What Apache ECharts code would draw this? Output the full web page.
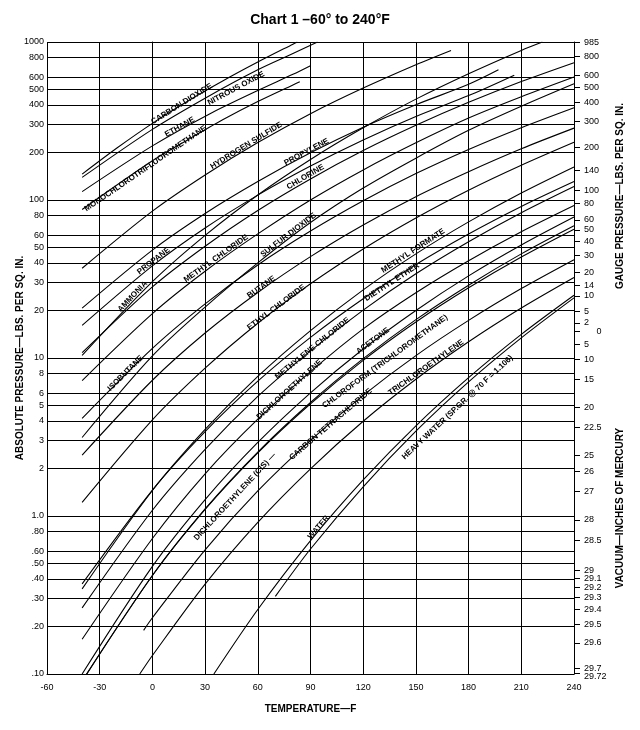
<!DOCTYPE html>
<html><head><meta charset="utf-8">
<script src="https://cdn.jsdelivr.net/npm/echarts@6/dist/echarts.min.js"></script>
<style>html,body{margin:0;padding:0;background:#fff}#c{width:640px;height:730px}</style>
</head><body><div id="c"></div>
<script>
// ---------- tick labels ----------
const xTicks = [-60,-30,0,30,60,90,120,150,180,210,240];
const xTickLabels = ['-60','-30','0','30','60','90','120','150','180','210','240'];
const absTicks = [1000,800,600,500,400,300,200,100,80,60,50,40,30,20,10,8,6,5,4,3,2,1,0.8,0.6,0.5,0.4,0.3,0.2,0.1];
const absTickLabels = ['1000','800','600','500','400','300','200','100','80','60','50','40','30','20','10','8','6','5','4','3','2','1.0','.80','.60','.50','.40','.30','.20','.10'];
const gaugeTicks = [985,800,600,500,400,300,200,140,100,80,60,50,40,30,20,14,10,5,2,0];
const vacuumTicks = [5,10,15,20,22.5,25,26,27,28,28.5,29,29.1,29.2,29.3,29.4,29.5,29.6,29.7,29.72];
const ATM_PSI = 14.7, ATM_INHG = 29.92;

// ---------- vapor pressure curves (deg F, psia) ----------
const co2T = [-40,-20,0,20,40,60,80,82.5];
const co2P = [145.8,214,305.5,421.8,567,747,969,1000];
const n2oT = [-40,0,32,60,80,94];
const n2oP = [139,280,454,667,845,1000];
const ethaneT = [-40,0,32,60,80,90];
const ethaneP = [113,220,348,493,624,708];
const r13T = [-40,0,20,40,60,80,83.9];
const r13P = [87,177,240,322,420,535,561];
const h2sT = [-40,0,30,60,90,120,150,170];
const h2sP = [37,85,144,231,352,511,718,884];
const propyleneT = [-40,0,30,60,90,120,150,180,197];
const propyleneP = [20.7,48.2,82.2,131,199,289,401,540,667];
const propaneT = [-40,0,30,60,90,120,150,180,206];
const propaneP = [16.1,38.3,66.5,107.4,164,240,338,458,617];
const chlorineT = [-40,0,30,60,90,120,150,180,210,240];
const chlorineP = [10.8,28.2,51,85.9,136,205.6,297,415,562,740];
const ammoniaT = [-40,0,30,60,90,120,150,180,210,222];
const ammoniaP = [10.4,30.4,59.7,107.6,180.6,286.4,435,630,885,1000];
const mechlT = [-40,0,30,60,90,120,150,180,210,240];
const mechlP = [7.2,19.1,35.4,61,100,155,230,330,450,600];
const so2T = [-40,0,30,60,90,120,150,180,210,240];
const so2P = [3.14,10.3,21,40,72,119,184,276,392,544];
const isobutaneT = [-40,0,30,60,90,120,150,180,210,240];
const isobutaneP = [4.15,11.5,22,38.8,63.6,98.9,147,209,287,384];
const butaneT = [-40,0,30,60,90,120,150,180,210,240];
const butaneP = [2.43,7.23,14.4,26,43.8,69.5,105,151,211,285];
const etclT = [-40,0,30,60,90,120,150,180,210,240];
const etclP = [1.22,4.06,8.62,16.6,29.5,49,77,115.4,166,232];
const mformT = [-40,0,30,60,90,120,150,180,210,240];
const mformP = [0.346,1.45,3.53,7.64,14.9,27,45.6,72.7,110.8,162];
const etherT = [-40,0,30,60,90,120,150,180,210,240];
const etherP = [0.372,1.46,3.42,7.13,13.5,23.7,39.1,61,91.1,131];
const mecl2T = [-40,0,30,60,90,120,150,180,210,240];
const mecl2P = [0.262,1.087,2.64,5.71,11.1,20.1,34.1,54.4,83,121.6];
const tdceT = [-40,0,30,60,90,120,150,180,210,240];
const tdceP = [0.166,0.72,1.85,4.1,8.2,15.3,25.9,41.3,63,92.3];
const acetoneT = [-40,0,30,60,90,120,150,180,210,240];
const acetoneP = [0.1,0.48,1.27,2.92,6.02,11.4,20,33.1,51.9,78];
const chcl3T = [-40,0,30,60,90,120,150,180,210,240];
const chcl3P = [0.0899,0.42,1.1,2.51,5.13,9.66,16.9,27.8,43.6,65.4];
const cdceT = [-40,0,30,60,90,120,150,180,210,240];
const cdceP = [0.0905,0.42,1.11,2.54,5.23,9.9,17.5,28.9,45.6,68.7];
const ccl4T = [-5,0,30,60,90,120,150,180,210,240];
const ccl4P = [0.189,0.227,0.611,1.44,3.01,5.8,10.36,17.3,27.5,41.9];
const tceT = [-7.2,0,30,60,90,120,150,180,210,240];
const tceP = [0.1,0.131,0.371,0.912,1.99,3.98,7.34,12.66,20.7,32.3];
const waterT = [35,60,90,120,150,180,210,240];
const waterP = [0.1,0.256,0.698,1.69,3.72,7.51,14.12,24.97];
const d2oT = [70,90,120,150,180,210,240];
const d2oP = [0.31,0.618,1.53,3.44,7.06,13.4,24.0];

const curves = [
  {id:'co2', t:co2T, p:co2P}, {id:'n2o', t:n2oT, p:n2oP}, {id:'ethane', t:ethaneT, p:ethaneP},
  {id:'r13', t:r13T, p:r13P}, {id:'h2s', t:h2sT, p:h2sP}, {id:'propylene', t:propyleneT, p:propyleneP},
  {id:'propane', t:propaneT, p:propaneP}, {id:'chlorine', t:chlorineT, p:chlorineP},
  {id:'ammonia', t:ammoniaT, p:ammoniaP}, {id:'mecl', t:mechlT, p:mechlP}, {id:'so2', t:so2T, p:so2P},
  {id:'isobutane', t:isobutaneT, p:isobutaneP}, {id:'butane', t:butaneT, p:butaneP},
  {id:'etcl', t:etclT, p:etclP}, {id:'mform', t:mformT, p:mformP}, {id:'ether', t:etherT, p:etherP},
  {id:'mecl2', t:mecl2T, p:mecl2P}, {id:'tdce', t:tdceT, p:tdceP}, {id:'acetone', t:acetoneT, p:acetoneP},
  {id:'chcl3', t:chcl3T, p:chcl3P}, {id:'cdce', t:cdceT, p:cdceP}, {id:'ccl4', t:ccl4T, p:ccl4P},
  {id:'tce', t:tceT, p:tceP}, {id:'water', t:waterT, p:waterP}, {id:'d2o', t:d2oT, p:d2oP}
];

// curve labels: text, curve, temperature of label centre, vertical offset px (layout)
const curveLabels = [
  ['CARBON DIOXIDE','co2',16.7, 1],
  ['ETHANE','ethane',15.6, 3.5],
  ['NITROUS OXIDE','n2o',47.6, -7],
  ['MONOCHLOROTRIFLUOROMETHANE','r13',-3.9, -3],
  ['HYDROGEN SULFIDE','h2s',53.4, 4],
  ['PROPYLENE','propylene',87.7, 3],
  ['CHLORINE','chlorine',87.1, 5],
  ['PROPANE','propane',0.7, 4],
  ['AMMONIA','ammonia',-11.3, 6],
  ['METHYL CHLORIDE','mecl',36.2, 5],
  ['SULFUR DIOXIDE','so2',77.4, 4.5],
  ['BUTANE','butane',62, 3],
  ['ETHYL CHLORIDE','etcl',70.5, 2],
  ['ISOBUTANE','isobutane',-15.3, 2],
  ['METHYL FORMATE','mform',148.4, 5],
  ['DIETHYL ETHER','ether',136.4, -2],
  ['METHYLENE CHLORIDE','mecl2',91.1, 1],
  ['DICHLOROETHYLENE','tdce',78, 1],
  ['ACETONE','acetone',125.5, 1],
  ['CHLOROFORM (TRICHLOROMETHANE)','chcl3',132.4, -17],
  ['CARBON TETRACHLORIDE','ccl4',101.5, -1],
  ['TRICHLOROETHYLENE','tce',155.8, 4.5],
  ['HEAVY WATER (SP.GR. @ 70 F = 1.106)','d2o',173.6, -15],
  ['WATER','water',94.6, 4],
  ['DICHLOROETHYLENE (CIS) \u2014','cdce',47, -20]
];

const FONT = '"Liberation Sans", Arial, Helvetica, sans-serif';
const gaugeAbs = gaugeTicks.map(g => g + ATM_PSI);
const vacAbs = vacuumTicks.map(v => Math.max(0.1005, ATM_PSI * (ATM_INHG - v) / ATM_INHG));
const rightValues = gaugeAbs.concat(vacAbs);
const rightLabels = gaugeTicks.map(g => g === 0 ? '     0' : String(g)).concat(vacuumTicks.map(String));
// the last vacuum mark sits on the bottom edge; its label is drawn separately just below
const rightLabelValues = rightValues.slice(0, -1);
const rightLabelTexts = rightLabels.slice(0, -1);

function nearestLabel(values, labels, v) {
  let best = 0, bd = Infinity;
  for (let i = 0; i < values.length; i++) {
    const d = Math.abs(Math.log(values[i]) - Math.log(v));
    if (d < bd) { bd = d; best = i; }
  }
  return labels[best];
}

const chart = echarts.init(document.getElementById('c'), null, {renderer:'canvas'});
const option = {
  animation: false,
  backgroundColor: '#fff',
  title: {text: 'Chart 1 \u201360\u00b0 to 240\u00b0F', left: 'center', top: 8,
    textStyle: {fontSize: 14, fontWeight: 'bold', color: '#000', fontFamily: FONT}},
  grid: {left: 47, right: 66, top: 42, bottom: 56, containLabel: false, outerBoundsMode: 'none'},
  xAxis: {
    type: 'value', min: -60, max: 240, interval: 30,
    name: 'TEMPERATURE\u2014F', nameLocation: 'middle', nameGap: 30, nameMoveOverlap: false,
    nameTextStyle: {fontSize: 10, fontWeight: 'bold', color: '#000', fontFamily: FONT},
    axisLine: {lineStyle: {color: '#000', width: 1}},
    axisTick: {show: false},
    axisLabel: {color: '#000', fontSize: 9, margin: 9, fontFamily: FONT,
      formatter: v => { const i = xTicks.indexOf(v); return i >= 0 ? xTickLabels[i] : ''; }},
    splitLine: {show: true, lineStyle: {color: '#000', width: 1}}
  },
  yAxis: [{
    type: 'log', logBase: 10, min: 0.1, max: 1000,
    name: 'ABSOLUTE PRESSURE\u2014LBS. PER SQ. IN.', nameLocation: 'middle', nameGap: 22, nameRotate: 90,
    nameMoveOverlap: false,
    nameTextStyle: {fontSize: 10, fontWeight: 'bold', color: '#000', fontFamily: FONT},
    axisLine: {show: true, lineStyle: {color: '#000', width: 1}},
    axisTick: {show: false, customValues: absTicks},
    axisLabel: {color: '#000', fontSize: 9, margin: 3, fontFamily: FONT, customValues: absTicks,
      showMinLabel: true, showMaxLabel: true,
      formatter: v => nearestLabel(absTicks, absTickLabels, v)},
    splitLine: {show: true, lineStyle: {color: '#000', width: 1}}
  }, {
    type: 'log', logBase: 10, min: 0.1, max: 1000, position: 'right',
    axisLine: {show: true, lineStyle: {color: '#000', width: 1}},
    axisTick: {show: true, inside: false, length: 6, customValues: rightValues, lineStyle: {color: '#000'}},
    axisLabel: {color: '#000', fontSize: 9, margin: 10, fontFamily: FONT, customValues: rightLabelValues,
      showMinLabel: true, showMaxLabel: true, hideOverlap: false,
      formatter: v => nearestLabel(rightLabelValues, rightLabelTexts, v)},
    splitLine: {show: false}
  }],
  series: curves.map(c => ({
    type: 'line', name: c.id, yAxisIndex: 0, smooth: 0.3, showSymbol: false, symbol: 'none',
    silent: true, clip: true,
    lineStyle: {color: '#000', width: 1.1},
    data: c.t.map((t, i) => [t, c.p[i]])
  }))
};
chart.setOption(option);

function curveAt(c, T) {
  const t = c.t, p = c.p;
  let i = 0;
  while (i < t.length - 2 && T > t[i + 1]) i++;
  const f = (T - t[i]) / (t[i + 1] - t[i]);
  return Math.pow(10, Math.log10(p[i]) + f * (Math.log10(p[i + 1]) - Math.log10(p[i])));
}

const graphics = [];
curveLabels.forEach(([text, id, T, dy]) => {
  const c = curves.find(k => k.id === id);
  const P = chart.convertToPixel({xAxisIndex: 0, yAxisIndex: 0}, [T, curveAt(c, T)]);
  const A = chart.convertToPixel({xAxisIndex: 0, yAxisIndex: 0}, [T - 5, curveAt(c, T - 5)]);
  const B = chart.convertToPixel({xAxisIndex: 0, yAxisIndex: 0}, [T + 5, curveAt(c, T + 5)]);
  const ang = Math.atan2(A[1] - B[1], B[0] - A[0]);
  graphics.push({type: 'text', x: P[0], y: P[1] - dy, rotation: ang, silent: true,
    style: {text: text, font: 'bold 8px ' + FONT, fill: '#000', textAlign: 'center', textVerticalAlign: 'middle'}});
});
// bottom vacuum label (29.72) just under the last tick
const lastVac = rightValues[rightValues.length - 1];
const lastPix = chart.convertToPixel({xAxisIndex: 0, yAxisIndex: 1}, [240, lastVac]);
graphics.push({type: 'text', x: lastPix[0] + 10, y: lastPix[1] + 3, silent: true,
  style: {text: rightLabels[rightLabels.length - 1], font: '9px ' + FONT, fill: '#000', textAlign: 'left', textVerticalAlign: 'middle'}});
graphics.push({type: 'text', x: 620, y: 196, rotation: Math.PI / 2, silent: true,
  style: {text: 'GAUGE PRESSURE\u2014LBS. PER SQ. IN.', font: 'bold 10px ' + FONT, fill: '#000', textAlign: 'center', textVerticalAlign: 'middle'}});
graphics.push({type: 'text', x: 620, y: 508, rotation: Math.PI / 2, silent: true,
  style: {text: 'VACUUM\u2014INCHES OF MERCURY', font: 'bold 10px ' + FONT, fill: '#000', textAlign: 'center', textVerticalAlign: 'middle'}});
chart.setOption({graphic: graphics});
</script></body></html>
